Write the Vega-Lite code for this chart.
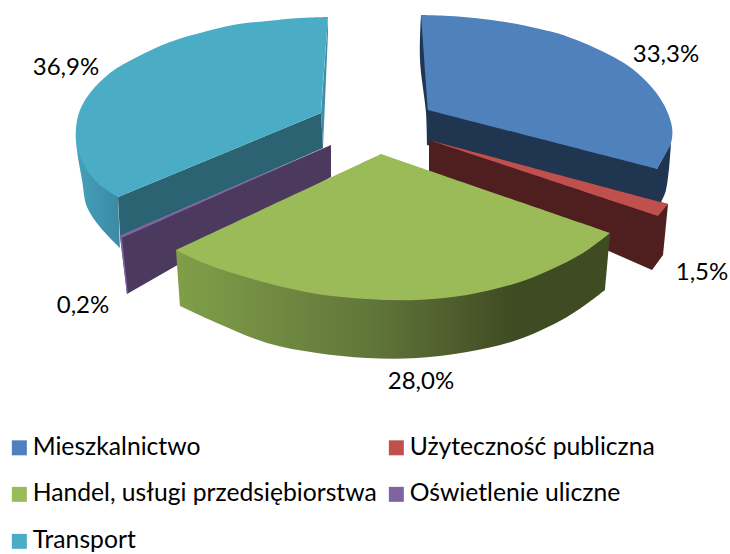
{"$schema":"https://vega.github.io/schema/vega-lite/v6.json","width":730,"height":554,"padding":0,"autosize":{"type":"none"},"background":"white","config":{"view":{"stroke":null}},
"datasets":{"shapes":[
{"id":"tealOuter","n":1,"x":76,"y":128},{"id":"tealOuter","n":2,"x":76,"y":128},{"id":"tealOuter","n":3,"x":77,"y":150},{"id":"tealOuter","n":4,"x":82,"y":180},{"id":"tealOuter","n":5,"x":87,"y":207},{"id":"tealOuter","n":6,"x":100,"y":227},{"id":"tealOuter","n":7,"x":120,"y":248},{"id":"tealOuter","n":8,"x":120,"y":248},{"id":"tealOuter","n":9,"x":118,"y":197},{"id":"tealOuter","n":10,"x":118,"y":197},
{"id":"tealEdge","n":1,"x":328,"y":17},{"id":"tealEdge","n":2,"x":328,"y":33},{"id":"tealEdge","n":3,"x":323,"y":147},{"id":"tealEdge","n":4,"x":321,"y":113},
{"id":"tealFront","n":1,"x":118,"y":197},{"id":"tealFront","n":2,"x":321,"y":113},{"id":"tealFront","n":3,"x":323,"y":148},{"id":"tealFront","n":4,"x":120,"y":236},
{"id":"Transport","n":1,"x":328,"y":17},{"id":"Transport","n":2,"x":328,"y":17},{"id":"Transport","n":3,"x":300,"y":18},{"id":"Transport","n":4,"x":267,"y":21},{"id":"Transport","n":5,"x":233,"y":25},{"id":"Transport","n":6,"x":200,"y":33},{"id":"Transport","n":7,"x":170,"y":42},{"id":"Transport","n":8,"x":137,"y":57},{"id":"Transport","n":9,"x":110,"y":73},{"id":"Transport","n":10,"x":90,"y":93},{"id":"Transport","n":11,"x":80,"y":110},{"id":"Transport","n":12,"x":76,"y":128},{"id":"Transport","n":13,"x":77,"y":147},{"id":"Transport","n":14,"x":87,"y":170},{"id":"Transport","n":15,"x":100,"y":185},{"id":"Transport","n":16,"x":118,"y":197},{"id":"Transport","n":17,"x":118,"y":197},{"id":"Transport","n":18,"x":321,"y":113},{"id":"Transport","n":19,"x":321,"y":113},{"id":"Transport","n":20,"x":328,"y":17},{"id":"Transport","n":21,"x":328,"y":17},
{"id":"purpleFront","n":1,"x":331,"y":145},{"id":"purpleFront","n":2,"x":120,"y":236},{"id":"purpleFront","n":3,"x":127,"y":294},{"id":"purpleFront","n":4,"x":331,"y":177},
{"id":"Oświetlenie uliczne","n":1,"x":331,"y":145},{"id":"Oświetlenie uliczne","n":2,"x":331,"y":145},{"id":"Oświetlenie uliczne","n":3,"x":120,"y":236},{"id":"Oświetlenie uliczne","n":4,"x":120,"y":236},{"id":"Oświetlenie uliczne","n":5,"x":127,"y":294},{"id":"Oświetlenie uliczne","n":6,"x":127,"y":294},{"id":"Oświetlenie uliczne","n":7,"x":128,"y":293},{"id":"Oświetlenie uliczne","n":8,"x":128,"y":293},{"id":"Oświetlenie uliczne","n":9,"x":122,"y":238},{"id":"Oświetlenie uliczne","n":10,"x":122,"y":238},{"id":"Oświetlenie uliczne","n":11,"x":331,"y":145},{"id":"Oświetlenie uliczne","n":12,"x":331,"y":145},
{"id":"blueSide","n":1,"x":421,"y":15},{"id":"blueSide","n":2,"x":421,"y":15},{"id":"blueSide","n":3,"x":420,"y":60},{"id":"blueSide","n":4,"x":426,"y":113},{"id":"blueSide","n":5,"x":427,"y":145},{"id":"blueSide","n":6,"x":427,"y":145},{"id":"blueSide","n":7,"x":659,"y":206},{"id":"blueSide","n":8,"x":659,"y":206},{"id":"blueSide","n":9,"x":666,"y":190},{"id":"blueSide","n":10,"x":671,"y":143},{"id":"blueSide","n":11,"x":671,"y":143},{"id":"blueSide","n":12,"x":657,"y":169},{"id":"blueSide","n":13,"x":657,"y":169},
{"id":"Mieszkalnictwo","n":1,"x":421,"y":15},{"id":"Mieszkalnictwo","n":2,"x":421,"y":15},{"id":"Mieszkalnictwo","n":3,"x":450,"y":16},{"id":"Mieszkalnictwo","n":4,"x":483,"y":19},{"id":"Mieszkalnictwo","n":5,"x":517,"y":24},{"id":"Mieszkalnictwo","n":6,"x":540,"y":29},{"id":"Mieszkalnictwo","n":7,"x":560,"y":34},{"id":"Mieszkalnictwo","n":8,"x":593,"y":47},{"id":"Mieszkalnictwo","n":9,"x":627,"y":65},{"id":"Mieszkalnictwo","n":10,"x":647,"y":82},{"id":"Mieszkalnictwo","n":11,"x":663,"y":103},{"id":"Mieszkalnictwo","n":12,"x":672,"y":127},{"id":"Mieszkalnictwo","n":13,"x":671,"y":143},{"id":"Mieszkalnictwo","n":14,"x":665,"y":155},{"id":"Mieszkalnictwo","n":15,"x":657,"y":169},{"id":"Mieszkalnictwo","n":16,"x":657,"y":169},{"id":"Mieszkalnictwo","n":17,"x":428,"y":110},{"id":"Mieszkalnictwo","n":18,"x":428,"y":110},{"id":"Mieszkalnictwo","n":19,"x":421,"y":15},{"id":"Mieszkalnictwo","n":20,"x":421,"y":15},
{"id":"redSide","n":1,"x":429,"y":140},{"id":"redSide","n":2,"x":668,"y":204},{"id":"redSide","n":3,"x":663,"y":255},{"id":"redSide","n":4,"x":652,"y":270},{"id":"redSide","n":5,"x":429,"y":172},
{"id":"Użyteczność publiczna","n":1,"x":429,"y":140},{"id":"Użyteczność publiczna","n":2,"x":429,"y":140},{"id":"Użyteczność publiczna","n":3,"x":668,"y":204},{"id":"Użyteczność publiczna","n":4,"x":668,"y":204},{"id":"Użyteczność publiczna","n":5,"x":658,"y":216},{"id":"Użyteczność publiczna","n":6,"x":658,"y":216},{"id":"Użyteczność publiczna","n":7,"x":429,"y":140},{"id":"Użyteczność publiczna","n":8,"x":429,"y":140},
{"id":"greenSide","n":1,"x":176,"y":250},{"id":"greenSide","n":2,"x":176,"y":250},{"id":"greenSide","n":3,"x":180,"y":306},{"id":"greenSide","n":4,"x":180,"y":306},{"id":"greenSide","n":5,"x":217,"y":323},{"id":"greenSide","n":6,"x":267,"y":343},{"id":"greenSide","n":7,"x":317,"y":353},{"id":"greenSide","n":8,"x":367,"y":358},{"id":"greenSide","n":9,"x":417,"y":358},{"id":"greenSide","n":10,"x":467,"y":352},{"id":"greenSide","n":11,"x":517,"y":340},{"id":"greenSide","n":12,"x":567,"y":317},{"id":"greenSide","n":13,"x":605,"y":290},{"id":"greenSide","n":14,"x":605,"y":290},{"id":"greenSide","n":15,"x":610,"y":233},{"id":"greenSide","n":16,"x":610,"y":233},
{"id":"Handel, usługi przedsiębiorstwa","n":1,"x":381,"y":154},{"id":"Handel, usługi przedsiębiorstwa","n":2,"x":381,"y":154},{"id":"Handel, usługi przedsiębiorstwa","n":3,"x":610,"y":233},{"id":"Handel, usługi przedsiębiorstwa","n":4,"x":610,"y":233},{"id":"Handel, usługi przedsiębiorstwa","n":5,"x":583,"y":253},{"id":"Handel, usługi przedsiębiorstwa","n":6,"x":550,"y":270},{"id":"Handel, usługi przedsiębiorstwa","n":7,"x":517,"y":283},{"id":"Handel, usługi przedsiębiorstwa","n":8,"x":467,"y":295},{"id":"Handel, usługi przedsiębiorstwa","n":9,"x":417,"y":300},{"id":"Handel, usługi przedsiębiorstwa","n":10,"x":367,"y":299},{"id":"Handel, usługi przedsiębiorstwa","n":11,"x":317,"y":294},{"id":"Handel, usługi przedsiębiorstwa","n":12,"x":267,"y":283},{"id":"Handel, usługi przedsiębiorstwa","n":13,"x":217,"y":268},{"id":"Handel, usługi przedsiębiorstwa","n":14,"x":190,"y":257},{"id":"Handel, usługi przedsiębiorstwa","n":15,"x":176,"y":250},{"id":"Handel, usługi przedsiębiorstwa","n":16,"x":176,"y":250},{"id":"Handel, usługi przedsiębiorstwa","n":17,"x":381,"y":154},{"id":"Handel, usługi przedsiębiorstwa","n":18,"x":381,"y":154}
],
"labels":[{"label":"33,3%","x":666,"y":55},{"label":"1,5%","x":702,"y":273},{"label":"28,0%","x":421,"y":382},{"label":"0,2%","x":83,"y":306},{"label":"36,9%","x":66,"y":68}]},
"encoding":{"x":{"field":"x","type":"quantitative","scale":{"domain":[0,730]},"axis":null},"y":{"field":"y","type":"quantitative","scale":{"domain":[554,0]},"axis":null}},
"layer":[
{"data":{"name":"shapes"},"transform":[{"filter":"datum.id==='tealOuter'"}],"mark":{"type":"line","interpolate":"catmull-rom","strokeWidth":0,"fill":{"gradient":"linear","x1":0,"x2":1,"y1":0,"y2":0,"stops":[{"offset":0,"color":"#45a0bb"},{"offset":1,"color":"#3b8aa3"}]}},"encoding":{"order":{"field":"n"}}},
{"data":{"name":"shapes"},"transform":[{"filter":"datum.id==='tealEdge'"}],"mark":{"type":"line","strokeWidth":0,"fill":"#3f8fa8"},"encoding":{"order":{"field":"n"}}},
{"data":{"name":"shapes"},"transform":[{"filter":"datum.id==='tealFront'"}],"mark":{"type":"line","strokeWidth":0,"fill":"#2b6373"},"encoding":{"order":{"field":"n"}}},
{"data":{"name":"shapes"},"transform":[{"filter":"datum.id==='purpleFront'"}],"mark":{"type":"line","strokeWidth":0,"fill":"#4b3a5e"},"encoding":{"order":{"field":"n"}}},
{"data":{"name":"shapes"},"transform":[{"filter":"datum.id==='blueSide'"}],"mark":{"type":"line","interpolate":"catmull-rom","strokeWidth":0,"fill":"#1f3550"},"encoding":{"order":{"field":"n"}}},
{"data":{"name":"shapes"},"transform":[{"filter":"datum.id==='redSide'"}],"mark":{"type":"line","strokeWidth":0,"fill":"#4e1f1e"},"encoding":{"order":{"field":"n"}}},
{"data":{"name":"shapes"},"transform":[{"filter":"datum.id==='greenSide'"}],"mark":{"type":"line","interpolate":"catmull-rom","strokeWidth":0,"fill":{"gradient":"linear","x1":0,"x2":1,"y1":0,"y2":0,"stops":[{"offset":0,"color":"#809f48"},{"offset":0.45,"color":"#61763a"},{"offset":0.78,"color":"#3f4b22"},{"offset":1,"color":"#3f4b22"}]}},"encoding":{"order":{"field":"n"}}},
{"data":{"name":"shapes"},"transform":[{"filter":"indexof(['Mieszkalnictwo','Użyteczność publiczna','Handel, usługi przedsiębiorstwa','Oświetlenie uliczne','Transport'],datum.id)>=0"}],"mark":{"type":"line","interpolate":"catmull-rom","strokeWidth":0},"encoding":{"order":{"field":"n"},"fill":{"field":"id","type":"nominal","scale":{"domain":["Mieszkalnictwo","Handel, usługi przedsiębiorstwa","Transport","Użyteczność publiczna","Oświetlenie uliczne"],"range":["#4f81bd","#9bbb59","#4bacc6","#c0504d","#8064a2"]},"legend":{"orient":"none","legendX":7,"legendY":435,"columns":2,"title":null,"symbolType":"square","symbolSize":225,"symbolStrokeWidth":0,"labelFont":"Lato","labelFontSize":24.7,"labelColor":"#000000","labelLimit":400,"columnPadding":7,"rowPadding":21,"labelOffset":1}}}},
{"data":{"name":"labels"},"mark":{"type":"text","font":"Lato","fontSize":24,"color":"#000000","baseline":"middle","align":"center"},"encoding":{"text":{"field":"label"}}}
]}
